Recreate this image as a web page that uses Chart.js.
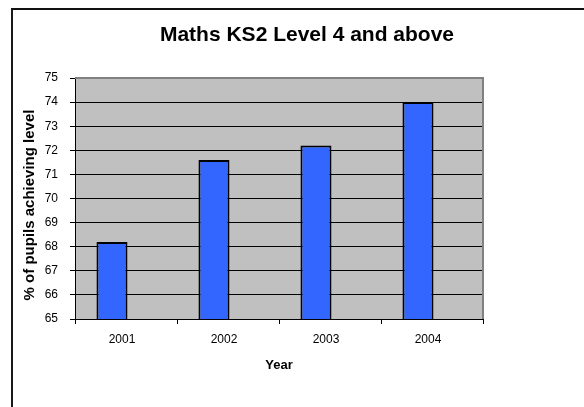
<!DOCTYPE html>
<html><head><meta charset="utf-8">
<script src="https://cdn.jsdelivr.net/npm/chart.js@4"></script>
<style>
html,body{margin:0;padding:0;background:#fff;overflow:hidden;}
#wrap{position:relative;width:584px;height:407px;}
#frame{position:absolute;left:11px;top:8px;width:580px;height:420px;border-left:2px solid #1a1a1a;border-top:2px solid #111;box-sizing:border-box;}
canvas{position:absolute;left:0;top:0;}
</style></head><body>
<div id="wrap"><div id="frame"></div><canvas id="c" width="584" height="407"></canvas></div>
<script>
// ---- data ----
const years = ['2001', '2002', '2003', '2004'];
const pupilsPct = [68.2, 71.6, 72.2, 74.0];
const spacer = [null, null, null, null];
const yMin = 65;
const yMax = 75;
const yStep = 1;
const chartTitle = 'Maths KS2 Level 4 and above';
const yTitle = '% of pupils achieving level';
const xTitle = 'Year';

const FONT = "'Liberation Sans', Arial, sans-serif";
Chart.defaults.font.family = FONT;
Chart.defaults.color = '#000';

const plotFrame = {
  id: 'plotFrame',
  beforeDraw(chart) {
    const {ctx, chartArea: a} = chart;
    ctx.save();
    ctx.fillStyle = '#C0C0C0';
    ctx.fillRect(a.left, a.top, a.right - a.left, a.bottom - a.top);
    ctx.restore();
  },
  beforeDatasetsDraw(chart) {
    const {ctx, chartArea: a} = chart;
    ctx.save();
    ctx.strokeStyle = '#808080';
    ctx.lineWidth = 2;
    ctx.beginPath();
    ctx.moveTo(a.left, a.top);
    ctx.lineTo(a.right, a.top);
    ctx.lineTo(a.right, a.bottom);
    ctx.stroke();
    ctx.restore();
  },
  afterDraw(chart) {
    const {ctx} = chart;
    ctx.save();
    ctx.fillStyle = '#000';
    ctx.font = "bold 21px " + FONT;
    ctx.textAlign = 'center';
    ctx.textBaseline = 'middle';
    ctx.fillText(chartTitle, 307, 35);
    ctx.restore();
    ctx.save();
    ctx.fillStyle = '#000';
    ctx.font = "bold 15px " + FONT;
    ctx.textAlign = 'center';
    ctx.textBaseline = 'middle';
    ctx.translate(30, 205);
    ctx.rotate(-Math.PI / 2);
    ctx.fillText(yTitle, 0, 0);
    ctx.restore();
  }
};

new Chart(document.getElementById('c'), {
  type: 'bar',
  data: {
    labels: years,
    datasets: [
      {
        label: 'Maths KS2',
        data: pupilsPct,
        backgroundColor: '#3366FF',
        borderColor: '#000',
        borderWidth: 2,
        borderSkipped: false,
        categoryPercentage: 0.55,
        barPercentage: 1.107
      },
      {
        label: '',
        data: spacer,
        categoryPercentage: 0.55,
        barPercentage: 1.107
      }
    ]
  },
  options: {
    responsive: false,
    animation: false,
    devicePixelRatio: 1,
    layout: {padding: {top: 78, right: 101, bottom: 0, left: 0}},
    plugins: {
      legend: {display: false},
      title: {display: false},
      tooltip: {enabled: false}
    },
    scales: {
      x: {
        type: 'category',
        offset: true,
        afterFit(s) { s.height = 88; },
        grid: {drawOnChartArea: false, drawTicks: true, tickLength: 5, color: '#000', lineWidth: 1},
        border: {color: '#000', width: 1},
        ticks: {font: {size: 12}, color: '#000', padding: 8, labelOffset: -4},
        title: {display: true, text: xTitle, font: {size: 13, weight: 'bold'}, color: '#000', padding: {top: 0, bottom: 34}}
      },
      y: {
        min: yMin,
        max: yMax,
        afterFit(s) { s.width = 75; },
        grid: {color: '#000', lineWidth: 1, tickLength: 5, drawTicks: true},
        border: {color: '#000', width: 1},
        ticks: {stepSize: yStep, font: {size: 12}, color: '#000', padding: 12},
        title: {display: false}
      }
    }
  },
  plugins: [plotFrame]
});
</script>
</body></html>
